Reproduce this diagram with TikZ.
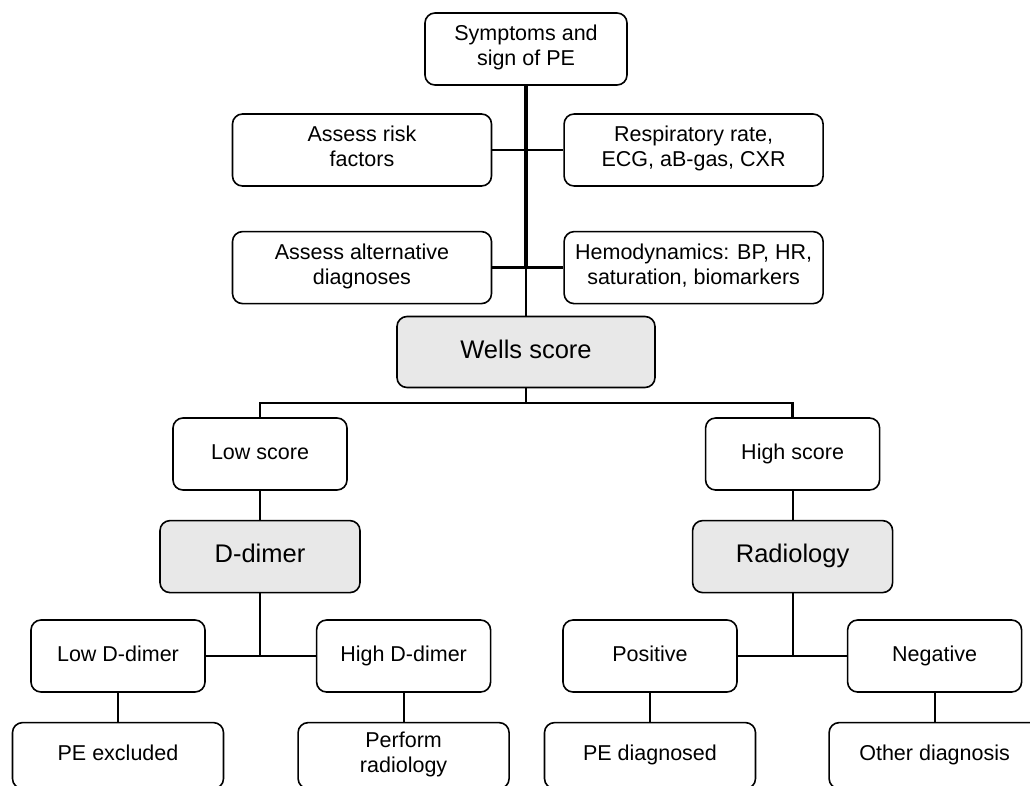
\documentclass[tikz,border=0pt]{standalone}
\usepackage{fontspec}
\setmainfont{Liberation Sans}
\usetikzlibrary{positioning}

\begin{document}
\begin{tikzpicture}[x=1pt, y=1pt, font=\fontsize{21.5}{25}\selectfont,
    box/.style={draw, line width=1.6pt, rounded corners=10pt, align=center, inner sep=0pt,
        execute at begin node=\strut, execute at end node=\strut},
    wide/.style={box, minimum width=259pt, minimum height=72pt},
    small/.style={box, minimum width=174pt, minimum height=72pt},
    leaf/.style={box, minimum width=211pt, minimum height=66pt},
    key/.style={box, fill=gray!18, font=\fontsize{25.5}{30}\selectfont},
    link/.style={line width=2.6pt},
    stem/.style={line width=2pt}]
    \useasboundingbox (0,0) rectangle (1030,-785);
    % top part
    \node[box, minimum width=202pt, minimum height=72pt] (sym) at (526,-49) {Symptoms and\\sign of PE};
    \node[wide] (risk) at (362,-150) {Assess risk\\factors};
    \node[wide, right=71pt of risk] (resp) {Respiratory rate,\\ECG, aB-gas, CXR};
    \node[wide, below=44pt of risk] (alt) {Assess alternative\\diagnoses};
    \node[wide, right=71pt of alt] (hemo) {Hemodynamics: BP, HR,\\saturation, biomarkers};
    \node[key, minimum width=258pt, minimum height=71pt] (wells) at (526,-352) {Wells score};
    % scores
    \node[small] (low) at (260,-454) {Low score};
    \node[small, right=357pt of low] (high) {High score};
    \node[key, minimum width=200pt, minimum height=72pt, below=29pt of low] (dimer) {D-dimer};
    \node[key, minimum width=200pt, minimum height=72pt, below=29pt of high] (radio) {Radiology};
    % results
    \node[small] (lowd) at (118,-656) {Low D-dimer};
    \node[small, right=110pt of lowd] (highd) {High D-dimer};
    \node[small] (pos) at (650,-656) {Positive};
    \node[small, right=109pt of pos] (neg) {Negative};
    \node[leaf, below=29pt of lowd] (excl) {PE excluded};
    \node[leaf, below=29pt of highd] (perf) {Perform\\radiology};
    \node[leaf, below=29pt of pos] (diag) {PE diagnosed};
    \node[leaf, below=29pt of neg] (other) {Other diagnosis};
    \coordinate (bus) at (526,-403);
    % connectors
    \draw[line width=3.6pt] (sym.south) -- (sym.south |- alt.east);
    \draw[link] (risk.east) -- (resp.west);
    \draw[link] (alt.east) -- (hemo.west);
    \draw[stem] (sym.south |- alt.east) -- (wells.north);
    \draw[stem] (wells.south) -- (bus);
    \draw[link] (low.north) |- (bus) -| (high.north);
    \draw[stem] (low) -- (dimer);
    \draw[stem] (high) -- (radio);
    \draw[stem] (dimer.south) -- (dimer.south |- lowd.east);
    \draw[link] (lowd.east) -- (highd.west);
    \draw[stem] (radio.south) -- (radio.south |- pos.east);
    \draw[link] (pos.east) -- (neg.west);
    \draw[stem] (lowd) -- (excl);
    \draw[stem] (highd) -- (perf);
    \draw[stem] (pos) -- (diag);
    \draw[stem] (neg) -- (other);
\end{tikzpicture}
\end{document}
